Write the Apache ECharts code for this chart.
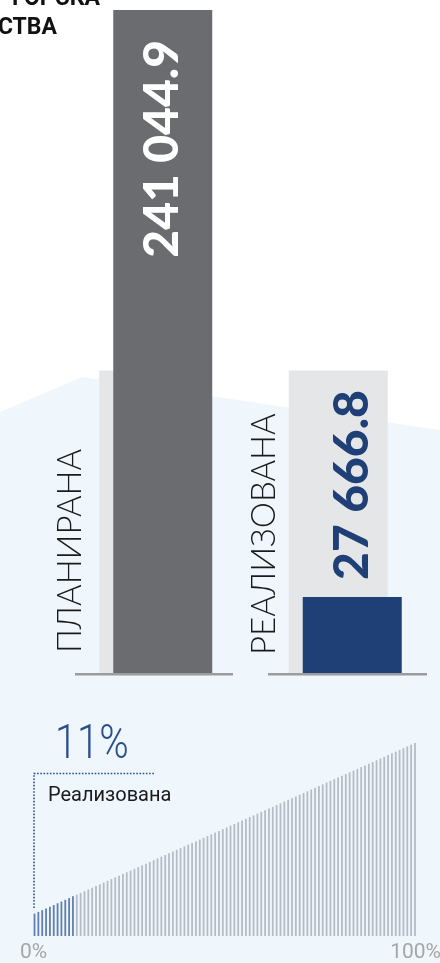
<!DOCTYPE html>
<html>
<head>
<meta charset="utf-8">
<script src="https://cdn.jsdelivr.net/npm/echarts@6/dist/echarts.min.js"></script>
<style>
html,body{margin:0;padding:0;background:#ffffff;}
#chart{width:440px;height:963px;}
</style>
</head>
<body>
<div id="chart"></div>
<script>
// ---- data ----
const titleLines = ['ГОРСКА', 'СТВА'];
const categories = ['ПЛАНИРАНА', 'РЕАЛИЗОВАНА'];
const values = [241044.9, 27666.8];
const valueLabels = ['241 044.9', '27 666.8'];
const backdropValues = [110000, 110000];
const shareLabel = '11%';
const shareCaption = 'Реализована';
const realizedStripes = 11;
const stripeValues = [
  13,14,15,16,17,18,19,20,21,22,23,24,25,26,27,28,29,30,31,32,
  33,34,35,36,37,38,39,40,41,42,43,44,45,46,47,48,49,50,51,52,
  53,54,55,56,57,58,59,60,61,62,63,64,65,66,67,68,69,70,71,72,
  73,74,75,76,77,78,79,80,81,82,83,84,85,86,87,88,89,90,91,92,
  93,94,95,96,97,98,99,100,101,102,103,104,105,106,107,108,109,110,111,112
];
const scaleLabels = ['0%', '100%'];

// ---- styles ----
const barColors = ['#6b6c70', '#1f3f77'];
const valueLabelColors = ['#ffffff', '#1f3f77'];
const catLabelPos = [[-29, 282.6], [-24.5, 284.6]];

const chart = echarts.init(document.getElementById('chart'), null, {renderer: 'canvas'});

const option = {
  backgroundColor: '#ffffff',
  animation: false,
  grid: [
    {left: 61, right: 0, top: 10, bottom: 290},
    {left: 32.6, width: 384.3, top: 743, height: 193}
  ],
  xAxis: [
    {type: 'category', gridIndex: 0, data: categories, show: false},
    {type: 'category', gridIndex: 1, data: stripeValues.map((v, i) => i), show: false}
  ],
  yAxis: [
    {type: 'value', gridIndex: 0, min: 0, max: values[0], show: false},
    {type: 'value', gridIndex: 1, min: 0, max: 112, show: false}
  ],
  series: [
    {
      type: 'bar', xAxisIndex: 0, yAxisIndex: 0, z: 2,
      barWidth: 99, barGap: '-85.86%',
      data: backdropValues.map((v, i) => ({
        value: v,
        itemStyle: {color: '#e5e6e8'},
        label: {
          show: true, formatter: categories[i], position: catLabelPos[i],
          rotate: 90, align: 'left', verticalAlign: 'middle',
          fontFamily: 'Lato', fontWeight: 300, fontSize: 33, color: '#1a1a1a'
        }
      }))
    },
    {
      type: 'bar', xAxisIndex: 0, yAxisIndex: 0, z: 3,
      barWidth: 99, barGap: '-85.86%',
      data: values.map((v, i) => ({
        value: v,
        itemStyle: {color: barColors[i]},
        label: i === 0 ? {
          show: true, formatter: valueLabels[i], position: 'insideTop', distance: 30,
          rotate: 90, align: 'right', verticalAlign: 'middle',
          fontFamily: 'Lato', fontWeight: 900, fontSize: 48, color: valueLabelColors[i]
        } : {
          show: true, formatter: valueLabels[i], position: 'top', distance: 17,
          rotate: 90, align: 'left', verticalAlign: 'middle',
          fontFamily: 'Lato', fontWeight: 900, fontSize: 48, color: valueLabelColors[i]
        }
      }))
    },
    {
      type: 'bar', xAxisIndex: 1, yAxisIndex: 1, z: 2,
      barWidth: 1.8,
      data: stripeValues.map((v, i) => ({
        value: v,
        itemStyle: {color: i < realizedStripes ? '#5f7fb0' : '#b6bcc6'}
      }))
    }
  ],
  graphic: [
    {
      type: 'polygon', z: -10, silent: true,
      shape: {points: [[0, 412], [82, 377], [440, 430], [440, 963], [0, 963]]},
      style: {fill: '#eff7fd'}
    },
    {type: 'rect', z: 10, shape: {x: 75, y: 673, width: 158, height: 2.4}, style: {fill: '#9b9c9f'}},
    {type: 'rect', z: 10, shape: {x: 268, y: 673, width: 159, height: 2.4}, style: {fill: '#9b9c9f'}},
    {type: 'text', z: 10, x: 100, y: -1, style: {text: titleLines[0], align: 'right', verticalAlign: 'middle', font: 'bold 23px Roboto', fill: '#111111'}},
    {type: 'text', z: 10, x: 57, y: 28, style: {text: titleLines[1], align: 'right', verticalAlign: 'middle', font: 'bold 23px Roboto', fill: '#111111'}},
    {type: 'text', z: 10, x: 55, y: 746, scaleX: 0.83, style: {text: shareLabel, align: 'left', verticalAlign: 'middle', font: '300 48px Roboto', fill: '#2b4f8c'}},
    {
      type: 'polyline', z: 10, silent: true,
      shape: {points: [[34, 908], [34, 773.5], [155, 773.5]]},
      style: {stroke: '#2b4f8c', lineWidth: 1.6, lineDash: [1.6, 1.6], fill: null}
    },
    {type: 'text', z: 10, x: 48, y: 796, style: {text: shareCaption, align: 'left', verticalAlign: 'middle', font: '20px Roboto', fill: '#1a1a1a'}},
    {type: 'text', z: 10, x: 20, y: 953, style: {text: scaleLabels[0], align: 'left', verticalAlign: 'middle', font: '21px Roboto', fill: '#a6a6a6'}},
    {type: 'text', z: 10, x: 441, y: 953, style: {text: scaleLabels[1], align: 'right', verticalAlign: 'middle', font: '21px Roboto', fill: '#a6a6a6'}}
  ]
};
chart.setOption(option);
</script>
</body>
</html>
